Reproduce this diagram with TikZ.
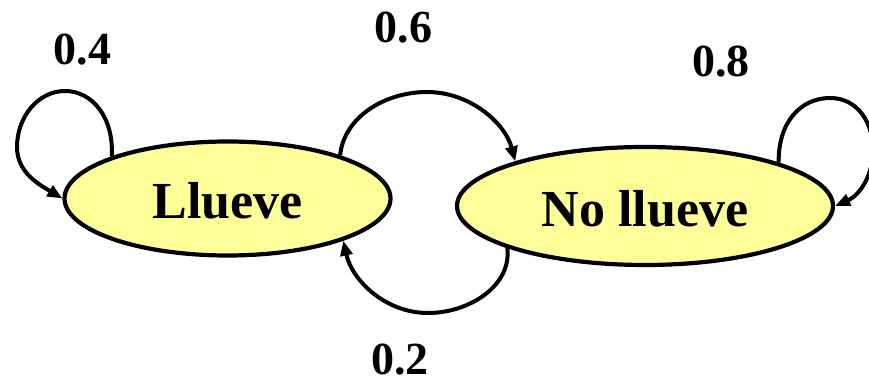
\documentclass[tikz,border=0pt]{standalone}
\usepackage{fontspec}
\setmainfont{Liberation Serif}
\usetikzlibrary{shapes.geometric,arrows.meta}
\definecolor{statefill}{HTML}{FFFF99}
\begin{document}
\begin{tikzpicture}[x=1pt,y=1pt,
  state/.style={ellipse,draw=black,line width=4.2pt,fill=statefill,inner sep=0pt,
    text height=41pt,text depth=0pt,font=\fontsize{52}{52}\selectfont\bfseries},
  prob/.style={anchor=base,inner sep=0pt,font=\fontsize{46}{46}\selectfont\bfseries},
  arr/.style={line width=4pt,-{Triangle[length=15pt,width=12pt]}}]
\useasboundingbox (0,0) rectangle (869,385);
\clip (0,0) rectangle (869,385);
\node[state,minimum width=326pt,minimum height=114pt] (L) at (227.5,186.5) {Llueve};
\node[state,minimum width=376pt,minimum height=118pt] (N) at (645,179) {No llueve};
\node[prob] (p4) at (82.5,320) {0.4};
\node[prob] (p6) at (403.5,342) {0.6};
\node[prob] (p8) at (721,308) {0.8};
\node[prob] (p2) at (400,10) {0.2};
\draw[arr] (L.160) .. controls (114,268) and (92,294) .. (65,294)
  .. controls (38,294) and (17,268) .. (17,238)
  .. controls (17,212) and (40,200) .. (L.west);
\draw[arr] (L.21) .. controls (344,268) and (385,293) .. (427,293)
  .. controls (470,293) and (505,262) .. (N.161);
\draw[arr] (N.197) .. controls (512,100) and (470,72) .. (428,72)
  .. controls (385,72) and (352,105) .. (L.-20);
\draw[arr] (N.18) .. controls (778,262) and (800,287) .. (830,287)
  .. controls (858,287) and (873,262) .. (873,235)
  .. controls (873,210) and (860,190) .. (N.east);
\end{tikzpicture}
\end{document}
